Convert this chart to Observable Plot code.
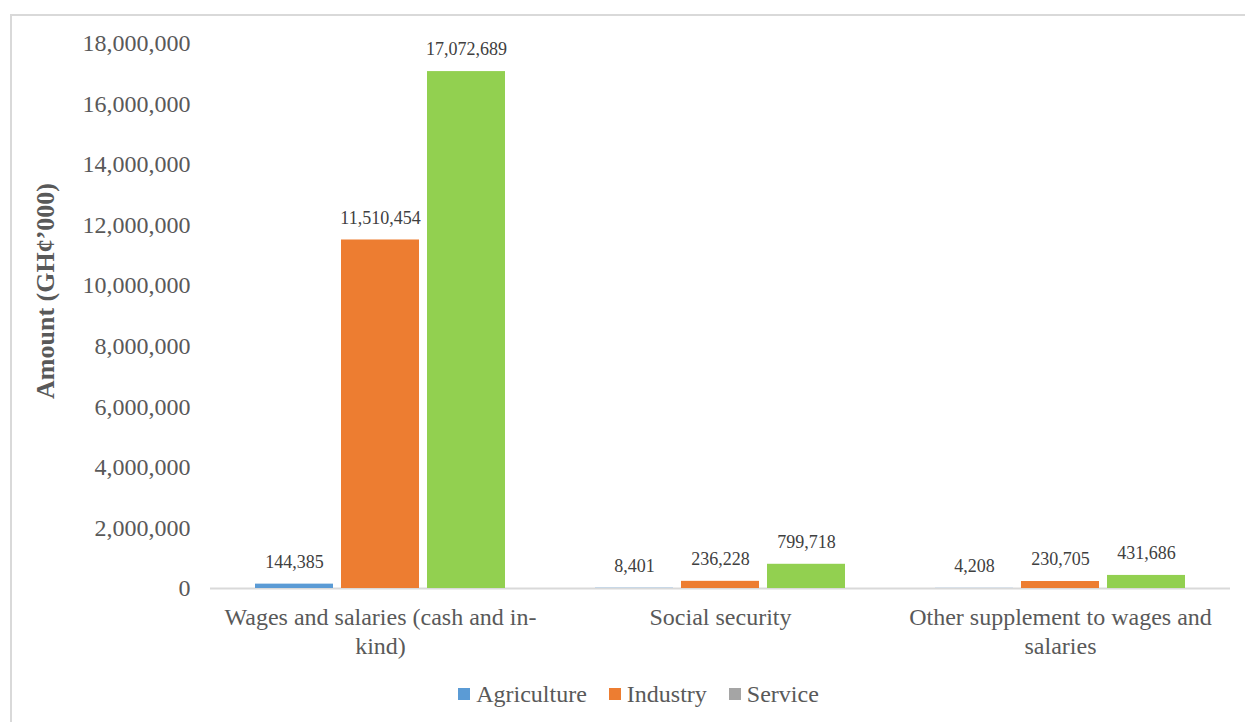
<!DOCTYPE html>
<html>
<head>
<meta charset="utf-8">
<script src="https://cdn.jsdelivr.net/npm/d3@7"></script>
<script src="https://cdn.jsdelivr.net/npm/@observablehq/plot@0.6"></script>
<style>
  html, body { margin: 0; padding: 0; background: #fff; overflow: hidden; width: 1245px; height: 722px; }
  #frame { position: absolute; left: 10px; top: 14px; width: 1300px; height: 800px; border: 2px solid #d9d9d9; box-sizing: border-box; }
  #chart { position: absolute; left: 0; top: 0; width: 1245px; }
  #legend { display: flex; justify-content: center; gap: 22px; margin-top: 15px; padding-left: 32px; font-family: "Liberation Serif", "Times New Roman", "DejaVu Serif", serif; font-size: 24px; color: #595959; line-height: 28px; }
  #legend .item { display: flex; align-items: center; }
  #legend .sw { width: 12px; height: 12px; margin-right: 6px; display: inline-block; }
</style>
</head>
<body>
<div id="frame"></div>
<div id="chart"></div>
<script>
const categories = ["Wages and salaries (cash and in-kind)", "Social security", "Other supplement to wages and salaries"];
const categoryLabels = ["Wages and salaries (cash and in-\nkind)", "Social security", "Other supplement to wages and\nsalaries"];
const sectors = ["Agriculture", "Industry", "Service"];
const agriculture = [144385, 8401, 4208];
const industry = [11510454, 236228, 230705];
const service = [17072689, 799718, 431686];
const yTicks = [0, 2000000, 4000000, 6000000, 8000000, 10000000, 12000000, 14000000, 16000000, 18000000];
const barColors = ["#5b9bd5", "#ed7d31", "#92d050"];
const legendColors = ["#5b9bd5", "#ed7d31", "#a5a5a5"];
const yLabel = "Amount (GH¢’000)";

const serif = "Liberation Serif, Times New Roman, DejaVu Serif, serif";
const series = [agriculture, industry, service];
const data = [];
categories.forEach((c, i) => sectors.forEach((s, j) => data.push({category: c, sector: s, value: series[j][i]})));
const fmt = d3.format(",");

const plot = Plot.plot({
  width: 1245,
  height: 665,
  marginLeft: 210,
  marginRight: 15,
  marginTop: 43,
  marginBottom: 77,
  style: {fontFamily: serif, background: "transparent", overflow: "visible"},
  fx: {domain: categories, padding: 0, label: null},
  x: {domain: sectors, paddingInner: 0.09, paddingOuter: 0.5, axis: null},
  y: {domain: [0, 18000000]},
  color: {domain: sectors, range: barColors},
  marks: [
    Plot.axisY({ticks: yTicks, tickFormat: fmt, tickSize: 0, tickPadding: 20, fontSize: 24, fontFamily: serif, fill: "#595959", label: null}),
    Plot.axisFx({anchor: "bottom", tickFormat: c => categoryLabels[categories.indexOf(c)], tickSize: 0, tickPadding: 16, fontSize: 24, fontFamily: serif, lineHeight: 1.2, fill: "#595959", label: null}),
    Plot.ruleY([0], {stroke: "#d9d9d9", strokeWidth: 2}),
    Plot.barY(data, {fx: "category", x: "sector", y: "value", fill: "sector"}),
    Plot.text(data, {fx: "category", x: "sector", y: "value", text: d => fmt(d.value), dy: -22, fontSize: 18, fontFamily: serif, fill: "#404040"}),
    Plot.text([yLabel], {fx: () => categories[0], frameAnchor: "left", textAnchor: "middle", rotate: -90, dx: -165, dy: -25, fontWeight: "bold", fontSize: 26, fontFamily: serif, fill: "#595959"})
  ]
});

const chart = document.getElementById("chart");
chart.appendChild(plot);
const legend = document.createElement("div");
legend.id = "legend";
sectors.forEach((s, i) => {
  const item = document.createElement("span");
  item.className = "item";
  const sw = document.createElement("span");
  sw.className = "sw";
  sw.style.background = legendColors[i];
  item.appendChild(sw);
  item.appendChild(document.createTextNode(s));
  legend.appendChild(item);
});
chart.appendChild(legend);
</script>
</body>
</html>
